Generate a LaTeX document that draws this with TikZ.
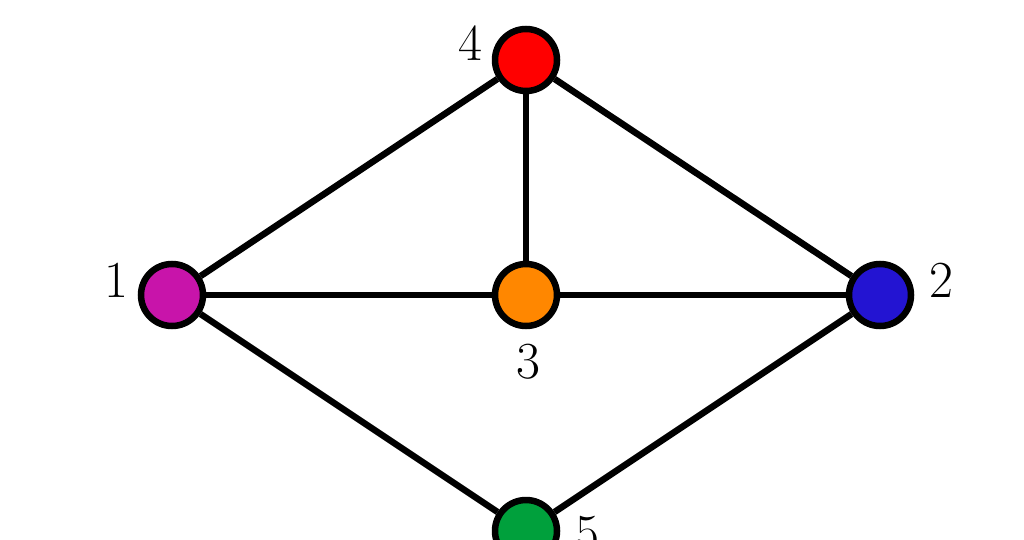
\documentclass[tikz,border=0pt]{standalone}
\usepackage{tikz}
\definecolor{cA}{RGB}{200,20,170}
\definecolor{cB}{RGB}{35,20,210}
\definecolor{cC}{RGB}{255,135,0}
\definecolor{cD}{RGB}{255,0,0}
\definecolor{cE}{RGB}{0,160,60}
\tikzset{
  vert/.style={circle, draw=black, line width=6.5pt, minimum size=62pt, inner sep=0pt},
  edge/.style={line width=6.5pt, draw=black},
  lab/.style={font=\fontsize{52}{60}\selectfont, inner sep=0pt}
}
\begin{document}
\begin{tikzpicture}[x=1pt,y=-1pt]
\useasboundingbox (0,0) rectangle (1024,540);
\node[vert, fill=cA] (n1) at (172,295) {};
\node[vert, fill=cB] (n2) at (880,295) {};
\node[vert, fill=cC] (n3) at (526,295) {};
\node[vert, fill=cD] (n4) at (526,60) {};
\node[vert, fill=cE] (n5) at (526,531) {};
\draw[edge] (n1) -- (n4);
\draw[edge] (n4) -- (n2);
\draw[edge] (n4) -- (n3);
\draw[edge] (n1) -- (n3);
\draw[edge] (n3) -- (n2);
\draw[edge] (n1) -- (n5);
\draw[edge] (n5) -- (n2);
\node[lab] (l1) at (116,280) {1};
\node[lab] (l2) at (941,280) {2};
\node[lab] (l3) at (528,362) {3};
\node[lab] (l4) at (470,43) {4};
\node[lab] (l5) at (587,534) {5};
\end{tikzpicture}
\end{document}
